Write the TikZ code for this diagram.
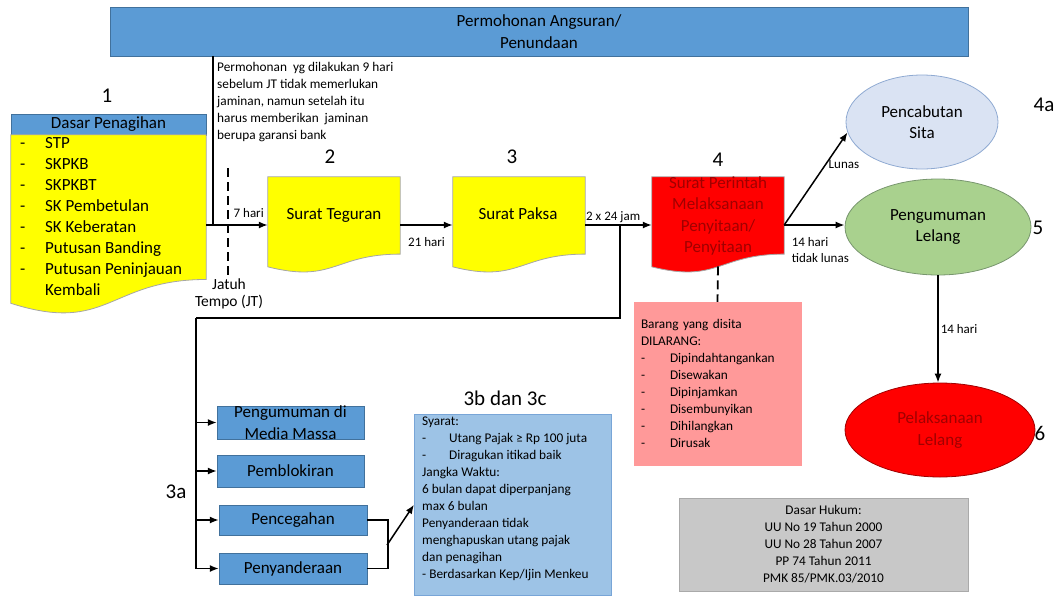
\documentclass[tikz,border=0pt]{standalone}
\usepackage{fontspec}
\setmainfont{Carlito}
\usetikzlibrary{shapes.geometric,arrows.meta,calc}
\definecolor{biru}{RGB}{91,155,213}
\definecolor{birutepi}{RGB}{65,113,156}
\definecolor{kuning}{RGB}{255,255,0}
\definecolor{merah}{RGB}{255,0,0}
\definecolor{merahtua}{RGB}{160,0,0}
\definecolor{merahmuda}{RGB}{255,153,153}
\definecolor{birumuda}{RGB}{218,227,243}
\definecolor{birumudatepi}{RGB}{143,170,210}
\definecolor{hijau}{RGB}{169,209,142}
\definecolor{hijautepi}{RGB}{120,150,110}
\definecolor{birusedang}{RGB}{157,195,230}
\definecolor{birusedangtepi}{RGB}{120,165,215}
\definecolor{abu}{RGB}{200,200,200}
\definecolor{abutepi}{RGB}{170,170,170}
\newcommand{\besar}{\fontsize{17}{21.5}\selectfont}
\newcommand{\kecil}{\fontsize{13.3}{17}\selectfont}
\newcommand{\ketfont}{\fontsize{13}{16}\selectfont}
\newcommand{\angkafont}{\fontsize{21}{24}\selectfont}
\newcommand{\butir}[2][25pt]{\makebox[#1][l]{-}#2}
\newcommand{\gelombang}[2]{\filldraw[fill=#2, draw=black!35, line width=0.8pt] (#1.north west) -- (#1.north east) -- ($(#1.north east)!0.802!(#1.south east)$) .. controls ($(#1.north)!0.802!(#1.south)$) and ($(#1.north)!1.107!(#1.south)$) .. ($(#1.north west)!0.934!(#1.south west)$) -- cycle;}
\tikzset{kotak/.style = {draw=birutepi, fill=biru, rectangle, inner sep=0pt, align=center, font=\besar},
         dok/.style = {rectangle, inner sep=0pt, minimum width=132pt, minimum height=96pt},
         elips/.style = {ellipse, inner sep=0pt, align=center, font=\besar, line width=0.8pt},
         catatan/.style = {rectangle, inner sep=0pt, align=left, font=\kecil},
         angka/.style = {font=\angkafont, inner sep=0pt},
         ket/.style = {font=\ketfont, inner sep=2pt},
         garis/.style = {line width=1.5pt},
         putus/.style = {dash pattern=on 9pt off 5pt, line width=1.8pt},
         >={Latex[length=9pt,width=7pt]}}
\begin{document}
\begin{tikzpicture}[x=1pt,y=-1pt]
        \useasboundingbox(0,0)rectangle(1058,595);

        \node[kotak, minimum width=858pt, minimum height=49pt](angsuran)at(539,31.5){Permohonan Angsuran/\\Penundaan};
        \node[catatan, anchor=north west](mohon)at(217,62){Permohonan\ \ yg dilakukan 9 hari\\sebelum JT tidak memerlukan\\jaminan, namun setelah itu\\harus memberikan\ \ jaminan\\berupa garansi bank};

        \node[angka](n1)at(107,96){1};
        \node[kotak, minimum width=195pt, minimum height=21pt](header)at(108.5,124.5){Dasar Penagihan};
        \node[dok, minimum width=195pt, minimum height=180pt](tagih)at(108.5,225){};
        \gelombang{tagih}{kuning}
        \node[catatan, anchor=north west, font=\fontsize{17}{21.1}\selectfont](daftar)at(20,137){\butir{STP}\\\butir{SKPKB}\\\butir{SKPKBT}\\\butir{SK Pembetulan}\\\butir{SK Keberatan}\\\butir{Putusan Banding}\\\butir{Putusan Peninjauan}\\\hspace*{25pt}Kembali};

        \coordinate(cabang)at(213,225);
        \draw[garis](angsuran.south -| cabang)--(cabang);
        \coordinate(jtatas)at(228,168);
        \node[font=\fontsize{15.5}{17}\selectfont, align=center, inner sep=2pt](jt)at(229,294){Jatuh\\Tempo (JT)};
        \draw[putus](jtatas)--(jtatas |- jt.north);

        \node[angka](n2)at(330,157){2};
        \node[dok](teguran)at(334,225){};
        \gelombang{teguran}{kuning}
        \node[font=\besar](teguranT)at(334,215){Surat Teguran};
        \draw[->,garis](tagih.east |- teguran.west)--(teguran.west)node[ket,pos=0.69,above=5pt](l7){7 hari};

        \node[angka](n3)at(512,157){3};
        \node[dok](paksa)at(519,225){};
        \gelombang{paksa}{kuning}
        \node[font=\besar](paksaT)at(518,214){Surat Paksa};
        \draw[->,garis](teguran.east)--(paksa.west)node[ket,midway,below=10pt](l21){21 hari};

        \node[angka](n4)at(718,160){4};
        \node[dok](sita)at(718,225){};
        \gelombang{sita}{merah}
        \node[font=\besar, text=merahtua, align=center](sitaT)at(718,216){Surat Perintah\\Melaksanaan\\Penyitaan/\\Penyitaan};
        \draw[->,garis](paksa.east)--(sita.west)node[ket,pos=0.42,above](l48){2 x 24 jam};

        \node[catatan, fill=merahmuda, draw=merahmuda, minimum width=167pt, minimum height=163pt, text width=153pt, inner xsep=7pt](larang)at(717.5,383.5){Barang yang disita\\DILARANG:\\\butir[29pt]{Dipindahtangankan}\\\butir[29pt]{Disewakan}\\\butir[29pt]{Dipinjamkan}\\\butir[29pt]{Disembunyikan}\\\butir[29pt]{Dihilangkan}\\\butir[29pt]{Dirusak}};
        \draw[putus]($(sita.north)!0.93!(sita.south)$)--(larang.north);

        \node[elips, fill=birumuda, draw=birumudatepi, minimum width=152pt, minimum height=94pt](cabut)at(922,122){Pencabutan\\Sita};
        \node[angka](n4a)at(1044,105){4a};
        \node[elips, fill=hijau, draw=hijautepi, minimum width=186pt, minimum height=96pt](umum)at(938,227){Pengumuman\\Lelang};
        \node[angka](n5)at(1038,228){5};
        \node[elips, fill=merah, draw=merahtua, minimum width=190pt, minimum height=94pt, text=merahtua](lelang)at(940,430){Pelaksanaan\\Lelang};
        \node[angka](n6)at(1040,433){6};

        \draw[->,garis](sita.east)--(cabut.188)node[ket,pos=0.66,right](llunas){Lunas};
        \draw[->,garis](sita.east)--(sita.east -| umum.west)node[ket,pos=0.08,anchor=north west,align=left,yshift=-10pt](l14a){14 hari\\tidak lunas};
        \draw[->,garis](umum.south)--(umum.south |- lelang.north)node[ket,midway,right](l14b){14 hari};

        \node[kotak, minimum width=147pt, minimum height=31pt](media)at(290.5,422.5){Pengumuman di\\Media Massa};
        \node[kotak, minimum width=147pt, minimum height=32pt](blokir)at(290.5,471){Pemblokiran};
        \node[kotak, minimum width=148pt, minimum height=30pt](cegah)at(293,520){Pencegahan};
        \node[kotak, minimum width=148pt, minimum height=31pt](sandera)at(293,568.5){Penyanderaan};
        \node[angka](n3a)at(176,492){3a};

        \coordinate(pisah)at(620,225);
        \coordinate(rel)at(196,318);
        \draw[garis](pisah)|-(rel);
        \draw[->,garis](rel)|-(sandera.west);
        \draw[->,garis](rel |- media.west)--(media.west);
        \draw[->,garis](rel |- blokir.west)--(blokir.west);
        \draw[->,garis](rel |- cegah.west)--(cegah.west);

        \node[angka](n3b)at(505,398){3b dan 3c};
        \node[catatan, fill=birusedang, draw=birusedangtepi, anchor=north west, inner xsep=8pt, inner ysep=3pt](syarat)at(414,414){\parbox[c][175pt][t]{181pt}{\kecil Syarat:\\\butir[27pt]{Utang Pajak ≥ Rp 100 juta}\\\butir[27pt]{Diragukan itikad baik}\\Jangka Waktu:\\6 bulan dapat diperpanjang\\max 6 bulan\\Penyanderaan tidak\\menghapuskan utang pajak\\dan penagihan\\- Berdasarkan Kep/Ijin Menkeu}};
        \coordinate(kurung)at(387,545);
        \draw[garis](cegah.east)--++(21,0)|-(sandera.east);
        \draw[->,garis](kurung)--(syarat.west);

        \node[catatan, align=center, fill=abu, draw=abutepi, minimum width=289pt, minimum height=93pt](hukum)at(823.5,544.5){Dasar Hukum:\\UU No 19 Tahun 2000\\UU No 28 Tahun 2007\\PP 74 Tahun 2011\\PMK 85/PMK.03/2010};
    \end{tikzpicture}
\end{document}
